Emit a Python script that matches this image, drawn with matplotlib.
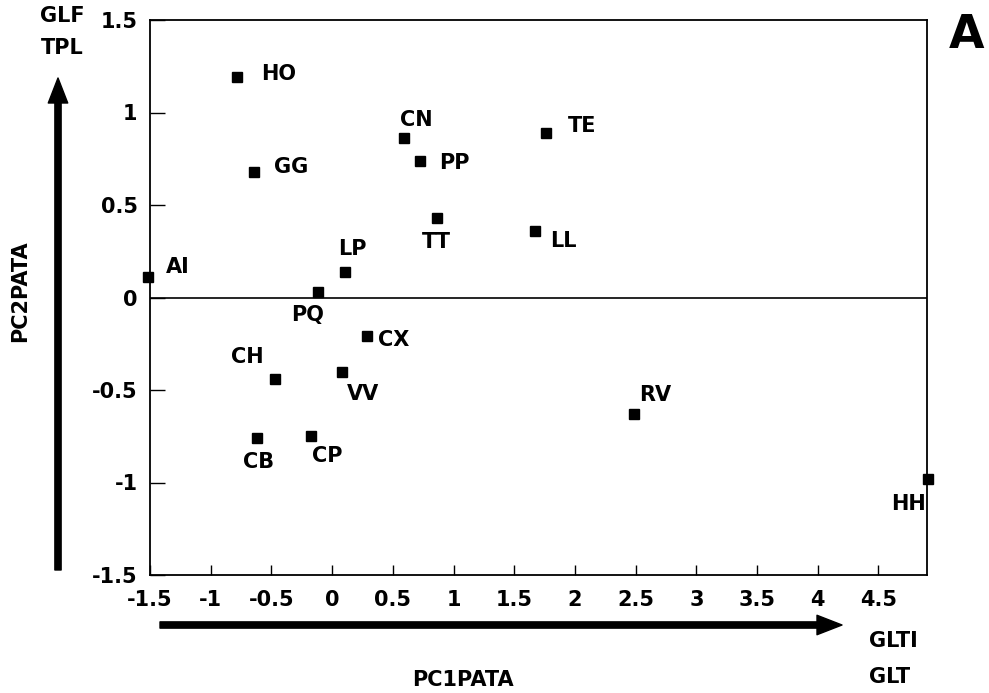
import matplotlib
matplotlib.use("Agg")
import matplotlib.pyplot as plt

plt.rcParams["font.family"] = ["DejaVu Sans"]
plt.rcParams["font.weight"] = "bold"

# sites on the first two principal components
names = ["HO", "GG", "CN", "PP", "TE", "TT", "LL", "LP", "AI",
         "PQ", "CX", "CH", "VV", "RV", "CB", "CP", "HH"]
pc1 = [-0.78, -0.64, 0.59, 0.72, 1.76, 0.86, 1.67, 0.11, -1.52,
       -0.12, 0.29, -0.47, 0.08, 2.49, -0.62, -0.17, 4.91]
pc2 = [1.19, 0.68, 0.86, 0.74, 0.89, 0.43, 0.36, 0.14, 0.11,
       0.03, -0.21, -0.44, -0.40, -0.63, -0.76, -0.75, -0.98]
# label offsets (pixels) and alignment
offs = {"HO": (24, 3, "left"), "GG": (20, 5, "left"), "CN": (-4, 18, "left"),
        "PP": (20, -2, "left"), "TE": (22, 7, "left"), "TT": (-15, -24, "left"),
        "LL": (15, -10, "left"), "LP": (-7, 23, "left"), "AI": (18, 10, "left"),
        "PQ": (-26, -23, "left"), "CX": (11, -4, "left"), "CH": (-44, 22, "left"),
        "VV": (5, -22, "left"), "RV": (5, 19, "left"), "CB": (-14, -24, "left"),
        "CP": (1, -20, "left"), "HH": (-2, -25, "right")}

FS = 15
W, H = 989, 693
fig = plt.figure(figsize=(W / 100, H / 100), dpi=100)
ax = fig.add_axes([150 / W, 1 - 575 / H, (927 - 150) / W, (575 - 20) / H])

ax.axhline(0, color="k", lw=1.2)
ax.plot(pc1, pc2, "s", color="k", ms=6.5, clip_on=False, zorder=3)
for n, x, y in zip(names, pc1, pc2):
    dx, dy, ha = offs[n]
    ax.annotate(n, (x, y), xytext=(dx, dy), textcoords="offset pixels",
                ha=ha, va="center", fontsize=FS, fontweight="bold",
                annotation_clip=False)

ax.set_xlim(-1.5, 4.9)
ax.set_ylim(-1.5, 1.5)
xt = [-1.5, -1, -0.5, 0, 0.5, 1, 1.5, 2, 2.5, 3, 3.5, 4, 4.5]
yt = [-1.5, -1, -0.5, 0, 0.5, 1, 1.5]
ax.set_xticks(xt, [f"{v:g}" for v in xt])
ax.set_yticks(yt, [f"{v:g}" for v in yt])
ax.tick_params(axis="x", direction="in", length=7, width=1, pad=11, labelsize=FS)
ax.tick_params(axis="y", direction="in", length=11, width=1, pad=9, labelsize=FS)
for lab in ax.get_xticklabels() + ax.get_yticklabels():
    lab.set_fontweight("bold")
for s in ax.spines.values():
    s.set_linewidth(1.3)

arrow = dict(width=4.5, headwidth=14, headlength=18, color="k")
fig.add_artist(plt.Annotation("", xy=(58 / W, 1 - 78 / H), xytext=(58 / W, 1 - 570 / H),
                              xycoords="figure fraction", arrowprops=arrow))
fig.add_artist(plt.Annotation("", xy=(842 / W, 1 - 625 / H), xytext=(160 / W, 1 - 625 / H),
                              xycoords="figure fraction", arrowprops=arrow))

fig.text(62 / W, 1 - 32 / H, "GLF\nTPL", ha="center", va="center", fontsize=FS,
         fontweight="bold", linespacing=1.75)
fig.text(20 / W, 1 - 291 / H, "PC2PATA", rotation=90, ha="center", va="center",
         fontsize=FS, fontweight="bold")
fig.text(463 / W, 1 - 680 / H, "PC1PATA", ha="center", va="center", fontsize=FS,
         fontweight="bold")
fig.text(869 / W, 1 - 659 / H, "GLTI\nGLT", ha="left", va="center", fontsize=FS,
         fontweight="bold", linespacing=1.95)
fig.text(967 / W, 1 - 36 / H, "A", ha="center", va="center", fontsize=33,
         fontweight="bold")

fig.savefig("out.png", dpi=100)
